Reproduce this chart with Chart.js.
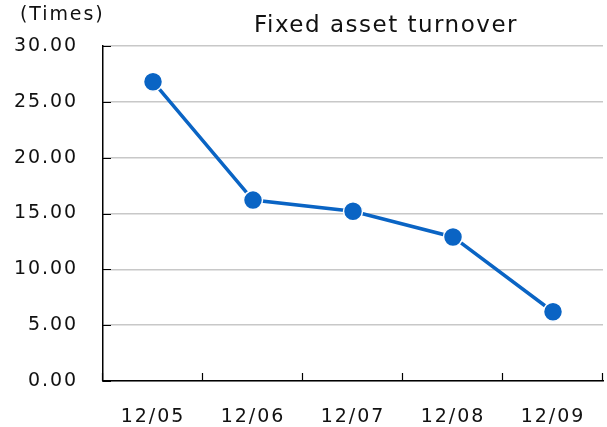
<!DOCTYPE html>
<html>
<head>
<meta charset="utf-8">
<script src="https://cdn.jsdelivr.net/npm/chart.js@4/dist/chart.umd.min.js"></script>
<style>
  html, body { margin: 0; padding: 0; background: #fff; }
  #wrap { position: relative; width: 607px; height: 427px; }
</style>
</head>
<body>
<div id="wrap"><canvas id="chart"></canvas></div>
<script>
// Fiscal periods and fixed asset turnover (times)
const periods = ["12/05", "12/06", "12/07", "12/08", "12/09"];
const turnover = [26.8, 16.2, 15.2, 12.9, 6.2];
const yTicks = [0, 5, 10, 15, 20, 25, 30];

const chartTitle = "Fixed asset turnover";
const unitLabel = "(Times)";

const FONT = "'DejaVu Sans', Verdana, sans-serif";
const BLUE = "#0a64c4";
const SPACING = "1.9px";

// spacing for the wide, airy glyphs of the original
const spacingPlugin = {
    id: "spacing",
    beforeUpdate(chart) { chart.ctx.letterSpacing = SPACING; },
    beforeDraw(chart) { chart.ctx.letterSpacing = SPACING; },
};

// inner tick marks + title/unit text
const decorPlugin = {
    id: "decor",
    beforeDatasetsDraw(chart) {
        const { ctx, chartArea, scales } = chart;
        ctx.save();
        ctx.strokeStyle = "#000";
        ctx.lineWidth = 1.2;
        ctx.beginPath();
        yTicks.forEach((v) => {
            const y = Math.round(scales.y.getPixelForValue(v)) + 0.5;
            ctx.moveTo(chartArea.left, y);
            ctx.lineTo(chartArea.left + 8, y);
        });
        for (let i = 0; i <= periods.length; i++) {
            const x = Math.round(scales.x.getPixelForValue(i - 0.5)) - 0.5;
            ctx.moveTo(x, chartArea.bottom);
            ctx.lineTo(x, chartArea.bottom - 8);
        }
        ctx.stroke();
        ctx.restore();
    },
    afterDraw(chart) {
        const { ctx } = chart;
        ctx.save();
        ctx.fillStyle = "#111";
        ctx.textBaseline = "middle";
        ctx.textAlign = "center";
        ctx.letterSpacing = "1.5px";
        ctx.font = "23px " + FONT;
        ctx.fillText(chartTitle, 386, 26);
        ctx.textAlign = "left";
        ctx.letterSpacing = SPACING;
        ctx.font = "19px " + FONT;
        ctx.fillText(unitLabel, 20, 15);
        ctx.restore();
    },
};

new Chart(document.getElementById("chart"), {
    type: "line",
    data: {
        labels: periods,
        datasets: [{
            data: turnover,
            borderColor: BLUE,
            borderWidth: 3.5,
            backgroundColor: BLUE,
            pointBackgroundColor: BLUE,
            pointBorderColor: "#fff",
            pointBorderWidth: 1.5,
            pointRadius: 9.5,
            pointHoverRadius: 9.5,
            tension: 0,
        }],
    },
    options: {
        responsive: true,
        maintainAspectRatio: false,
        animation: false,
        events: [],
        layout: { autoPadding: false, padding: { top: 46, right: 4, left: 0, bottom: 0 } },
        plugins: {
            legend: { display: false },
            title: { display: false },
            tooltip: { enabled: false },
        },
        scales: {
            x: {
                offset: true,
                grid: {
                    display: true,
                    drawOnChartArea: false,
                    drawTicks: true,
                    tickLength: 25,
                    tickColor: "rgba(0,0,0,0)",
                },
                border: { display: true, color: "#000", width: 1.5 },
                ticks: {
                    color: "#111",
                    font: { family: FONT, size: 19 },
                    padding: 0,
                },
                afterFit(scale) { scale.height = 46; },
            },
            y: {
                min: 0,
                max: 30,
                afterBuildTicks(scale) { scale.ticks = yTicks.map((v) => ({ value: v })); },
                grid: { color: "#c8c8c8", lineWidth: 1.5, drawTicks: false },
                border: { display: true, color: "#000", width: 1.5 },
                ticks: {
                    color: "#111",
                    font: { family: FONT, size: 19 },
                    padding: 25,
                    callback: (v) => Number(v).toFixed(2),
                },
                afterFit(scale) { scale.width = 103; },
            },
        },
    },
    plugins: [spacingPlugin, decorPlugin],
});
</script>
</body>
</html>
